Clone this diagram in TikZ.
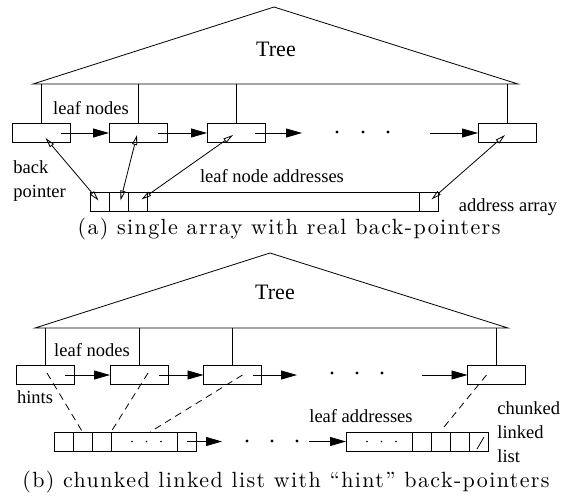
\documentclass[tikz,border=0pt]{standalone}
\usepackage{fontspec}
\usepackage{tikz}
\usetikzlibrary{positioning}
\usetikzlibrary{arrows.meta}

\newfontfamily\figfont{Liberation Serif}
\newfontfamily\capfamily{lmroman10-regular.otf}[Ligatures=TeX, LetterSpace=6.3]
\newcommand{\labfont}{\figfont\fontsize{18.5}{24}\selectfont}
\newcommand{\treefont}{\figfont\fontsize{22}{26}\selectfont}
\newcommand{\capfont}{\capfamily\fontsize{22}{26}\selectfont}

\tikzset{
	leaf/.style={draw, minimum width=58pt, minimum height=19pt, inner sep=0pt, outer sep=0pt},
	cell/.style={draw, minimum width=19pt, minimum height=19pt, inner sep=0pt, outer sep=0pt},
	widecell/.style={cell, minimum width=66pt},
	lab/.style={font=\labfont, inner sep=0pt},
	nextarrow/.style={-{Triangle[length=16pt,width=9pt]}},
	backptr/.style={{Triangle[open,length=10pt,width=5pt]}-{Triangle[open,length=10pt,width=5pt]}},
	hint/.style={dash pattern=on 7pt off 5pt},
}

\begin{document}
\begin{tikzpicture}[x=1pt, y=-1pt, line width=0.8pt]
	\useasboundingbox (0,0) rectangle (570,496);

	\coordinate (baseAl) at (33,84);
	\coordinate (baseAr) at (518,84);
	\coordinate (topA) at (274,7);
	\draw (baseAl) -- (topA) -- (baseAr) -- cycle;
	\node[font=\treefont, inner sep=0pt] (treeA) at (276,49.5) {Tree};

	\node[leaf] (a1) at (41.5,133) {};
	\node[leaf] (a2) at (138,133) {};
	\node[leaf] (a3) at (236,133) {};
	\node[leaf] (a4) at (507,133) {};
	\foreach \n in {a1,a2,a3,a4}
		\draw (\n.north) -- (\n.north |- baseAl);
	\node[lab] (leafA) at (91,108) {leaf nodes};

	\coordinate (gapA) at (302,133);
	\coordinate (restA) at (430,133);
	\draw[nextarrow] ([xshift=-10pt]a1.east) -- (a2);
	\draw[nextarrow] ([xshift=-9pt]a2.east) -- (a3);
	\draw[nextarrow] ([xshift=-10pt]a3.east) -- (gapA);
	\foreach \x in {337,363,388} \fill (\x,132) circle (1.6pt);
	\draw[nextarrow] (restA) -- (a4);

	\node[cell] (c1) at (99.5,201.5) {};
	\node[cell, right=0pt of c1] (c2) {};
	\node[cell, right=0pt of c2] (c3) {};
	\node[cell, minimum width=272pt, right=0pt of c3] (c4) {};
	\node[cell, right=0pt of c4] (c5) {};

	\draw[backptr] ([shift={(4,5)}]a1.center) -- ([shift={(-1,-1)}]c1.center);
	\draw[backptr] ([shift={(-1,2)}]a2.center) -- ([shift={(2,-1)}]c2.center);
	\draw[backptr] ([shift={(-3,2)}]a3.center) -- ([shift={(4,-2)}]c3.center);
	\draw[backptr] ([shift={(-2,2)}]a4.center) -- ([shift={(3,-2)}]c5.center);

	\node[lab, align=left, anchor=north west] (backlab) at (13,160) {back\\pointer};
	\node[lab] (addrlab) at (272,176) {leaf node addresses};
	\node[lab] (arraylab) at (508,207) {address array};
	\node[font=\capfont, inner sep=0pt] (capA) at (289,229) {(a) single array with real back-pointers};

	\coordinate (baseBl) at (35,328);
	\coordinate (baseBr) at (508,328);
	\coordinate (topB) at (270,253);
	\draw (baseBl) -- (topB) -- (baseBr) -- cycle;
	\node[font=\treefont, inner sep=0pt] (treeB) at (275,292.5) {Tree};

	\node[leaf] (b1) at (45,375) {};
	\node[leaf] (b2) at (139,375) {};
	\node[leaf] (b3) at (232.5,375) {};
	\node[leaf] (b4) at (496.5,375) {};
	\foreach \n in {b1,b2,b3,b4}
		\draw (\n.north) -- (\n.north |- baseBl);
	\node[lab] (leafB) at (92,350) {leaf nodes};

	\coordinate (gapB) at (297,375);
	\coordinate (restB) at (422,375);
	\draw[nextarrow] ([xshift=-9pt]b1.east) -- (b2);
	\draw[nextarrow] ([xshift=-9pt]b2.east) -- (b3);
	\draw[nextarrow] ([xshift=-9pt]b3.east) -- (gapB);
	\foreach \x in {332,357,382} \fill (\x,373) circle (1.6pt);
	\draw[nextarrow] (restB) -- (b4);
	\node[lab] (hintlab) at (35,397) {hints};

	\node[cell] (k1) at (63.5,441.5) {};
	\node[cell, right=0pt of k1] (k2) {};
	\node[cell, right=0pt of k2] (k3) {};
	\node[widecell, right=0pt of k3] (k4) {};
	\node[cell, right=0pt of k4] (k5) {};
	\foreach \d in {-12,2.5,17} \fill ([xshift=\d pt]k4.center) circle (0.9pt);

	\node[widecell] (j1) at (379,441.5) {};
	\node[cell, right=0pt of j1] (j2) {};
	\node[cell, right=0pt of j2] (j3) {};
	\node[cell, right=0pt of j3] (j4) {};
	\node[cell, right=0pt of j4] (j5) {};
	\foreach \d in {-12,2.5,17} \fill ([xshift=\d pt]j1.center) circle (0.9pt);
	\draw ([shift={(-1.5,7.5)}]j5.center) -- ([shift={(5.5,-4.5)}]j5.center);

	\coordinate (gapC) at (222,441.5);
	\coordinate (restC) at (309,441.5);
	\draw[nextarrow] (k5.center) -- (gapC);
	\foreach \x in {247,272,297} \fill (\x,441) circle (1.6pt);
	\draw[nextarrow] (restC) -- (j1);

	\coordinate (hintend) at (444,427);
	\draw[hint] ([shift={(2,-2)}]b1.center) -- (k2.north);
	\draw[hint] ([shift={(9,-2)}]b2.center) -- (k3.north east);
	\draw[hint] ([shift={(10,0)}]b3.center) -- ([xshift=6pt]k4.north);
	\draw[hint] ([shift={(-10,0)}]b4.center) -- (hintend);

	\node[lab] (leafaddr) at (361,416) {leaf addresses};
	\node[lab, align=left, anchor=north west] (chunklab) at (497,401.5) {chunked\\linked\\list};
	\node[font=\capfont, inner sep=0pt] (capB) at (286,482) {(b) chunked linked list with ``hint'' back-pointers};
\end{tikzpicture}
\end{document}
